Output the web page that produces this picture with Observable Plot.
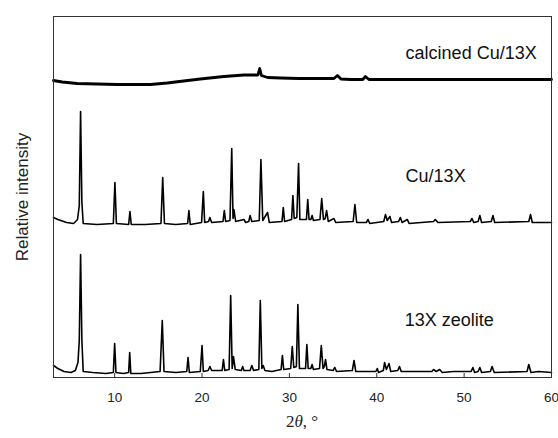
<!DOCTYPE html>
<html>
<head>
<meta charset="utf-8">
<script src="https://cdn.jsdelivr.net/npm/d3@7"></script>
<script src="https://cdn.jsdelivr.net/npm/@observablehq/plot@0.6"></script>
<style>
  html, body { margin: 0; padding: 0; background: #fff; }
  #chart { width: 558px; height: 438px; }
</style>
</head>
<body>
<div id="chart"></div>
<script>
// ---------- data (2θ in degrees, relative intensity in arbitrary units) ----------
const seriesNames = ["13X zeolite", "Cu/13X", "calcined Cu/13X"];
const xTicks = [10, 20, 30, 40, 50, 60];

// 13X zeolite pattern: [2θ, intensity]
const zeolite13X = [
  [3.0,12],[3.5,9],[4.2,6],[5.0,5],[5.5,7],[5.8,15],[5.95,37],[6.1,123],[6.25,37],[6.4,6],
  [7.5,5],[9.0,4],[9.85,5],[10.0,34],[10.15,5],[11.0,4],[11.6,5],[11.72,25],[11.85,4],
  [13.0,4],[15.2,6],[15.45,57],[15.65,6],[17.0,5],[18.25,6],[18.4,20],[18.55,5],
  [19.8,6],[20.0,32],[20.15,6],[20.7,7],[20.9,11],[21.1,7],[22.3,7],[22.45,18],[22.6,7],
  [23.1,8],[23.28,82],[23.45,9],[23.6,21],[23.8,8],[24.5,7],[24.65,11],[24.8,7],
  [25.5,7],[25.7,12],[25.9,7],[26.5,8],[26.67,77],[26.85,9],[27.0,12],[27.2,7],[28.0,6],
  [29.05,8],[29.2,22],[29.35,8],[30.15,9],[30.33,31],[30.5,10],[30.8,11],[30.97,73],[31.15,9],
  [31.85,9],[32.0,33],[32.15,9],[32.45,9],[32.6,13],[32.75,8],[33.45,9],[33.65,32],[33.85,9],
  [34.0,11],[34.14,18],[34.3,8],[35.0,7],[35.2,10],[35.4,6],[37.2,7],[37.4,17],[37.6,6],
  [39.9,6],[40.06,9],[40.2,5],[40.75,7],[40.9,15],[41.1,8],[41.4,14],[41.6,6],
  [42.4,7],[42.6,11],[42.8,6],[46.3,6],[46.5,8],[46.8,6],[47.2,8],[47.5,5],[48.8,6],
  [50.8,6],[51.0,10],[51.2,5],[51.6,6],[51.8,10],[52.0,5],[53.0,6],[53.2,11],[53.45,5],
  [57.2,6],[57.4,13],[57.65,5],[58.5,6],[60.0,5]
];

// Cu/13X pattern
const cu13X = [
  [3.0,160],[3.5,158],[4.5,155],[5.3,154],[5.75,158],[5.95,172],[6.1,266],[6.25,175],[6.4,154],
  [8.0,153],[9.85,154],[10.03,195],[10.2,154],[11.6,153],[11.75,166],[11.9,153],
  [13.5,153],[15.3,154],[15.5,200],[15.7,154],[17.0,153],[18.35,154],[18.5,167],[18.65,153],
  [19.95,155],[20.15,186],[20.3,155],[20.75,156],[20.9,160],[21.1,155],[22.4,156],[22.55,167],[22.7,156],
  [23.2,157],[23.4,229],[23.55,159],[23.65,168],[23.85,156],[24.8,158],[25.0,155],
  [25.35,156],[25.5,162],[25.7,156],[26.55,157],[26.74,218],[26.95,157],[27.5,165],[27.7,155],
  [29.15,156],[29.3,170],[29.45,156],[30.25,158],[30.4,182],[30.55,159],[30.85,160],[31.05,214],[31.2,158],
  [31.95,158],[32.1,178],[32.25,158],[32.45,158],[32.6,162],[32.75,157],[33.5,158],[33.7,179],[33.9,158],
  [34.1,159],[34.26,167],[34.45,156],[35.1,159],[35.3,155],[37.3,156],[37.5,173],[37.7,155],
  [38.8,155],[39.0,158],[39.2,154],[40.8,156],[41.0,163],[41.2,157],[41.5,161],[41.7,155],
  [42.5,156],[42.7,160],[42.9,155],[43.5,158],[43.7,154],[46.5,156],[46.7,158],[47.0,155],
  [50.7,156],[50.9,159],[51.1,155],[51.6,156],[51.8,162],[52.0,155],[53.1,156],[53.3,162],[53.5,155],
  [57.4,156],[57.6,163],[57.8,155],[60.0,155]
];

// calcined Cu/13X pattern
const calcinedCu13X = [
  [3.0,297],[4.0,295.5],[5.7,294],[8.0,293.5],[10.3,293],[14.1,293],[16.0,294.5],[17.9,296.5],
  [19.8,298.5],[22.5,301],[24.8,302.5],[26.4,302.5],[26.6,309],[26.8,302],[27.5,300],[29.0,299.5],
  [31.1,299],[34.3,299],[35.1,299],[35.5,302],[35.9,298.5],[37.0,298],[38.4,298],[38.7,301],[39.1,298],
  [42.7,298],[50.4,298],[60.0,298]
];

// ---------- chart ----------
const traces = [
  {name: seriesNames[0], pts: zeolite13X, w: 1.6},
  {name: seriesNames[1], pts: cu13X, w: 1.6},
  {name: seriesNames[2], pts: calcinedCu13X, w: 2.8}
];

const labels = [
  {name: seriesNames[2], x: 43.3, y: 324},
  {name: seriesNames[1], x: 43.3, y: 201},
  {name: seriesNames[0], x: 43.2, y: 57}
];

const font = "'Liberation Sans', Arial, sans-serif";

const plot = Plot.plot({
  width: 558,
  height: 438,
  marginLeft: 53,
  marginRight: 7,
  marginTop: 16,
  marginBottom: 61,
  style: {fontFamily: font, background: "#fff", color: "#222"},
  x: {domain: [3, 60], ticks: xTicks, tickSize: 0, tickPadding: 15, label: null},
  y: {domain: [0, 361], axis: null},
  marks: [
    ...traces.map(t => Plot.line(t.pts, {x: d => d[0], y: d => d[1], stroke: "#000", strokeWidth: t.w, strokeLinejoin: "round"})),
    Plot.ruleX(xTicks, {x: d => d, y1: 0, y2: 4, stroke: "#333", strokeWidth: 1}),
    Plot.frame({stroke: "#333", strokeWidth: 1}),
    Plot.text(labels, {x: "x", y: "y", text: "name", textAnchor: "start", fontSize: 18, fill: "#111"}),
    Plot.text(["Relative intensity"], {frameAnchor: "left", textAnchor: "middle", rotate: -90, dx: -31, fontSize: 17, fill: "#222"})
  ]
});

d3.select(plot).select("g[aria-label='x-axis tick label']").style("font-size", "13.5px");

// x-axis title with italic theta
const xt = d3.select(plot).append("text")
  .attr("x", 302).attr("y", 427)
  .attr("text-anchor", "middle")
  .style("font-family", "'Liberation Serif', 'Times New Roman', serif")
  .style("font-size", "17px")
  .attr("fill", "#222");
xt.append("tspan").text("2");
xt.append("tspan").style("font-style", "italic").text("θ");
xt.append("tspan").text(", °");

document.getElementById("chart").appendChild(plot);
</script>
</body>
</html>
